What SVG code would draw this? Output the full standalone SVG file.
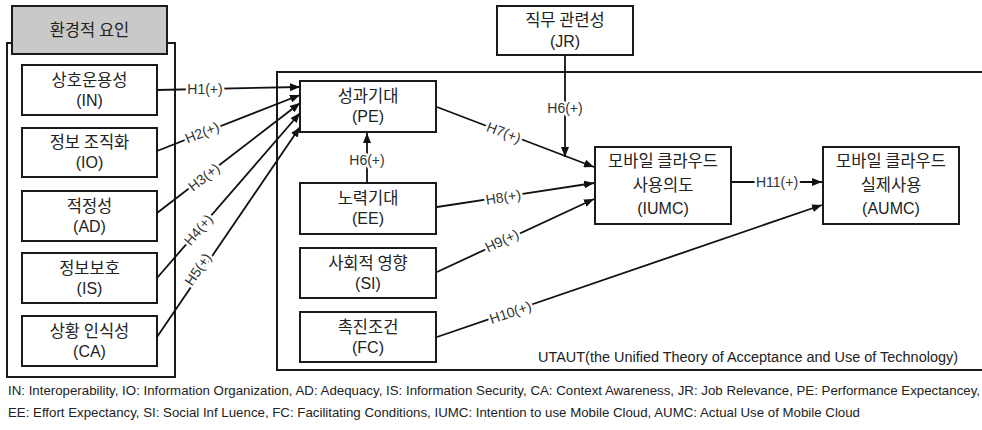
<svg xmlns="http://www.w3.org/2000/svg" width="982" height="430" viewBox="0 0 982 430">
<style>
.box{fill:#fff;stroke:#1a1a1a;stroke-width:2}
.frame{fill:none;stroke:#1a1a1a;stroke-width:2}
.t{font-family:"Noto Sans CJK KR","Liberation Sans",sans-serif;font-size:16.5px;fill:#222;text-anchor:middle}
.p{font-family:"Liberation Sans","Noto Sans CJK KR",sans-serif;font-size:16px;fill:#222;text-anchor:middle}
.c{stroke:#111;stroke-width:1.8;fill:none}
.lb{font-family:"Liberation Sans","Noto Sans CJK KR",sans-serif;font-size:14px;fill:#333;text-anchor:middle;stroke:#fff;stroke-width:5;paint-order:stroke;stroke-linejoin:round}
.ft{font-family:"Liberation Sans Narrow","Liberation Sans",sans-serif;font-size:13px;fill:#222}
</style>
<defs>
<marker id="ah" markerUnits="userSpaceOnUse" markerWidth="10" markerHeight="8" refX="10" refY="4" orient="auto">
<path d="M0,0 L10,4 L0,8 z" fill="#111"/>
</marker>
</defs>
<rect width="982" height="430" fill="#fff"/>

<g id="env">
<rect class="frame" x="7" y="43" width="168" height="334"/>
<rect x="12" y="6" width="155" height="48" fill="#c9c9c9" stroke="#1a1a1a" stroke-width="2"/>
<text class="t" x="89.5" y="36">환경적 요인</text>
</g>
<g id="utaut">
<path class="frame" d="M990,72 H277 V370 H990"/>
<text x="958" y="362" font-family="Liberation Sans Narrow,Liberation Sans,sans-serif" font-size="14" fill="#222" text-anchor="end" textLength="420" lengthAdjust="spacingAndGlyphs">UTAUT(the Unified Theory of Acceptance and Use of Technology)</text>
</g>

<g id="IN"><rect class="box" x="22" y="65" width="135" height="50"/><text class="t" x="89.5" y="86">상호운용성</text><text class="p" x="89.5" y="106">(IN)</text></g>
<g id="IO"><rect class="box" x="22" y="128" width="135" height="49"/><text class="t" x="89.5" y="148">정보 조직화</text><text class="p" x="89.5" y="168">(IO)</text></g>
<g id="AD"><rect class="box" x="22" y="191" width="135" height="50"/><text class="t" x="89.5" y="212">적정성</text><text class="p" x="89.5" y="232">(AD)</text></g>
<g id="IS"><rect class="box" x="22" y="253" width="135" height="50"/><text class="t" x="89.5" y="274">정보보호</text><text class="p" x="89.5" y="294">(IS)</text></g>
<g id="CA"><rect class="box" x="22" y="316" width="135" height="50"/><text class="t" x="89.5" y="337">상황 인식성</text><text class="p" x="89.5" y="357">(CA)</text></g>

<g id="JR"><rect class="box" x="497" y="6" width="136" height="49"/><text class="t" x="565" y="26">직무 관련성</text><text class="p" x="565" y="47">(JR)</text></g>
<g id="PE"><rect class="box" x="300" y="81" width="136" height="51"/><text class="t" x="368" y="102">성과기대</text><text class="p" x="368" y="122">(PE)</text></g>
<g id="EE"><rect class="box" x="300" y="183" width="136" height="51"/><text class="t" x="368" y="204">노력기대</text><text class="p" x="368" y="224">(EE)</text></g>
<g id="SI"><rect class="box" x="300" y="248" width="136" height="50"/><text class="t" x="368" y="269">사회적 영향</text><text class="p" x="368" y="289">(SI)</text></g>
<g id="FC"><rect class="box" x="300" y="312" width="136" height="50"/><text class="t" x="368" y="333">촉진조건</text><text class="p" x="368" y="353">(FC)</text></g>
<g id="IUMC"><rect class="box" x="595" y="147" width="136" height="77"/><text class="t" x="663" y="167" font-size="16">모바일 클라우드</text><text class="t" x="663" y="191" font-size="16">사용의도</text><text class="p" x="663" y="214">(IUMC)</text></g>
<g id="AUMC"><rect class="box" x="823" y="147" width="136" height="77"/><text class="t" x="891" y="167" font-size="16">모바일 클라우드</text><text class="t" x="891" y="191" font-size="16">실제사용</text><text class="p" x="891" y="214">(AUMC)</text></g>

<g id="connectors">
<line class="c" x1="157" y1="90" x2="300" y2="87" marker-end="url(#ah)"/>
<line class="c" x1="157" y1="151" x2="300" y2="95" marker-end="url(#ah)"/>
<line class="c" x1="157" y1="213" x2="300" y2="103" marker-end="url(#ah)"/>
<line class="c" x1="157" y1="278" x2="300" y2="113" marker-end="url(#ah)"/>
<line class="c" x1="157" y1="337" x2="300" y2="127" marker-end="url(#ah)"/>
<line class="c" x1="367" y1="183" x2="367" y2="133" marker-end="url(#ah)"/>
<line class="c" x1="565" y1="55" x2="565" y2="157" marker-end="url(#ah)"/>
<line class="c" x1="437" y1="107" x2="594" y2="167" marker-end="url(#ah)"/>
<line class="c" x1="437" y1="207" x2="594" y2="183" marker-end="url(#ah)"/>
<line class="c" x1="437" y1="272" x2="594" y2="199" marker-end="url(#ah)"/>
<line class="c" x1="437" y1="337" x2="822" y2="205" marker-end="url(#ah)"/>
<line class="c" x1="731" y1="182" x2="822" y2="182" marker-end="url(#ah)"/>

<text class="lb" x="205" y="94">H1(+)</text>
<text class="lb" transform="translate(204,137) rotate(-21.7)">H2(+)</text>
<text class="lb" transform="translate(207,181) rotate(-38)">H3(+)</text>
<text class="lb" transform="translate(202,233) rotate(-49.5)">H4(+)</text>
<text class="lb" transform="translate(202,272) rotate(-56)">H5(+)</text>
<text class="lb" x="367" y="165">H6(+)</text>
<text class="lb" x="565" y="113">H6(+)</text>
<text class="lb" transform="translate(502,137) rotate(21)">H7(+)</text>
<text class="lb" transform="translate(504,202) rotate(-8.7)">H8(+)</text>
<text class="lb" transform="translate(504,245) rotate(-24.9)">H9(+)</text>
<text class="lb" transform="translate(512,317) rotate(-18.9)">H10(+)</text>
<text class="lb" x="777" y="187">H11(+)</text>
</g>

<g id="footer">
<text class="ft" x="8" y="395" textLength="972" lengthAdjust="spacingAndGlyphs">IN: Interoperability,  IO: Information Organization,  AD: Adequacy,  IS: Information Security,  CA: Context Awareness,  JR: Job Relevance,  PE: Performance Expectancey,</text>
<text class="ft" x="8" y="417" textLength="852" lengthAdjust="spacingAndGlyphs">EE:  Effort Expectancy,  SI: Social Inf Luence,  FC: Facilitating Conditions,  IUMC: Intention to use Mobile Cloud,  AUMC: Actual Use of Mobile Cloud</text>
</g>
</svg>
